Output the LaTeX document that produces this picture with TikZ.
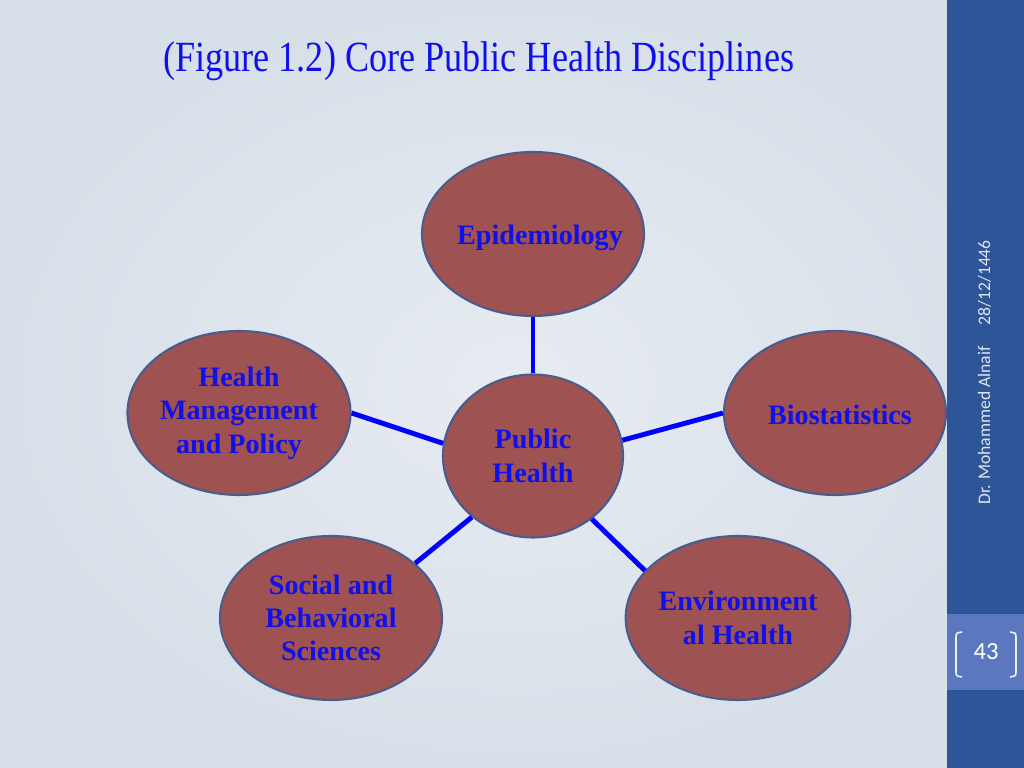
\documentclass[tikz,border=0pt]{standalone}
\usepackage{fontspec}
\setmainfont{Liberation Serif}
\newfontfamily\titlefont[FakeStretch=0.84]{Liberation Serif}
\newfontfamily\sidefont{Carlito}
\usepackage{tikz}
\usetikzlibrary{shapes,positioning}
\definecolor{bgin}{HTML}{E7ECF2}
\definecolor{bgout}{HTML}{D7DFE8}
\definecolor{sidebar}{HTML}{2D5597}
\definecolor{pagebox}{HTML}{5B78BF}
\definecolor{discfill}{HTML}{9E5252}
\definecolor{discline}{HTML}{4A5C8C}
\definecolor{disctext}{HTML}{1010EA}

\begin{document}
\begin{tikzpicture}[
  discname/.style={text=disctext, font=\fontsize{16}{19}\selectfont\bfseries, align=center, inner sep=0pt},
  disc/.style={ellipse, draw=discline, line width=1.2pt, fill=discfill,
    minimum width=4.44cm, minimum height=3.28cm, inner sep=0pt, discname},
  core/.style={disc, minimum width=3.6cm, minimum height=3.26cm},
  spoke/.style={blue, line width=2.8pt}
]
\useasboundingbox (0,0) rectangle (20.48,15.36);

% background
\shade [inner color=bgin, outer color=bgout] (0,0) rectangle (20.48,15.36);
\fill [sidebar] (18.94,0) rectangle (20.48,15.36);
\fill [pagebox] (18.94,1.56) rectangle (20.48,3.08);

% page number
\draw [white!90!pagebox, line width=0.9pt] (19.24,2.72) .. controls (19.12,2.70) .. (19.12,2.60) -- (19.12,1.94) .. controls (19.12,1.84) .. (19.24,1.82);
\draw [white!90!pagebox, line width=0.9pt] (20.20,2.72) .. controls (20.32,2.70) .. (20.32,2.60) -- (20.32,1.94) .. controls (20.32,1.84) .. (20.20,1.82);
\node (pagenum) [text=white, font=\sidefont\fontsize{14}{16}\selectfont] at (19.72,2.32) {43};
\node (footer) [rotate=90, anchor=base west, inner sep=0pt, text=white!85!sidebar, font=\sidefont\fontsize{10}{12}\selectfont] at (19.80,5.26) {Dr. Mohammed Alnaif\quad\ 28/12/1446};

% title
\node (title) [anchor=base west, inner sep=0pt, text=disctext, font=\titlefont\fontsize{24.5}{28}\selectfont] at (3.26,13.92) {(Figure 1.2) Core Public Health Disciplines};

% disciplines
\node (epi) [disc] at (10.66,10.68) {};
\node (epiname) [discname] at ([xshift=0.14cm, yshift=-0.08cm]epi.center) {Epidemiology};
\node (hmp) [disc] at (4.78,7.10) {Health\\Management\\and Policy};
\node (bio) [disc] at (16.70,7.10) {};
\node (bioname) [discname] at ([xshift=0.1cm, yshift=-0.04cm]bio.center) {Biostatistics};
\node (ph) [core] at (10.66,6.24) {Public\\Health};
\node (sbs) [disc] at (6.62,3.00) {Social and\\Behavioral\\Sciences};
\node (env) [disc] at (14.76,3.00) {Environment\\al Health};

% spokes
\draw [spoke] (epi.south) -- (ph.north);
\draw [spoke] (hmp.east) -- (ph.172);
\draw [spoke] (ph.10) -- (bio.west);
\draw [spoke] (sbs.33) -- (ph.225);
\draw [spoke] (ph.-47) -- (env.153);

\end{tikzpicture}
\end{document}
